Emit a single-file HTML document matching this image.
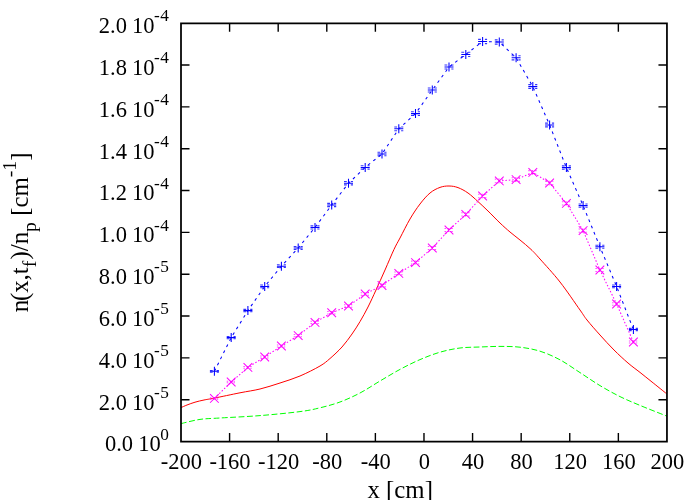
<!DOCTYPE html>
<html><head><meta charset="utf-8"><title>plot</title>
<style>html,body{margin:0;padding:0;background:#fff;}body{width:700px;height:500px;overflow:hidden;position:relative;font-family:"Liberation Serif",serif;}</style></head>
<body>
<svg width="700" height="500" viewBox="0 0 700 500" style="position:absolute;left:0;top:0;will-change:transform;font-family:'Liberation Serif',serif;">
<rect width="700" height="500" fill="#fff"/>
<path d="M181.00,407.60 C182.00,407.17 184.67,405.90 187.00,405.00 C189.33,404.10 192.17,403.03 195.00,402.20 C197.83,401.37 200.77,400.68 204.00,400.00 C207.23,399.32 208.40,399.30 214.40,398.10 C220.40,396.90 232.40,394.32 240.00,392.80 C247.60,391.28 253.33,390.63 260.00,389.00 C266.67,387.37 273.33,385.17 280.00,383.00 C286.67,380.83 293.33,378.83 300.00,376.00 C306.67,373.17 315.00,368.92 320.00,366.00 C325.00,363.08 326.33,361.67 330.00,358.50 C333.67,355.33 338.33,351.08 342.00,347.00 C345.67,342.92 349.00,338.23 352.00,334.00 C355.00,329.77 357.33,326.10 360.00,321.60 C362.67,317.10 365.33,312.27 368.00,307.00 C370.67,301.73 373.17,296.17 376.00,290.00 C378.83,283.83 382.00,276.77 385.00,270.00 C388.00,263.23 391.50,254.73 394.00,249.40 C396.50,244.07 397.33,243.07 400.00,238.00 C402.67,232.93 406.67,224.67 410.00,219.00 C413.33,213.33 416.67,208.33 420.00,204.00 C423.33,199.67 426.67,195.77 430.00,193.00 C433.33,190.23 436.83,188.57 440.00,187.40 C443.17,186.23 446.00,185.97 449.00,186.00 C452.00,186.03 454.83,186.43 458.00,187.60 C461.17,188.77 464.67,190.67 468.00,193.00 C471.33,195.33 474.67,198.60 478.00,201.60 C481.33,204.60 484.33,207.43 488.00,211.00 C491.67,214.57 496.33,219.50 500.00,223.00 C503.67,226.50 506.67,229.17 510.00,232.00 C513.33,234.83 516.50,237.10 520.00,240.00 C523.50,242.90 527.67,246.23 531.00,249.40 C534.33,252.57 535.17,253.57 540.00,259.00 C544.83,264.43 553.33,273.50 560.00,282.00 C566.67,290.50 575.50,303.67 580.00,310.00 C584.50,316.33 583.67,315.83 587.00,320.00 C590.33,324.17 595.50,330.00 600.00,335.00 C604.50,340.00 609.33,345.33 614.00,350.00 C618.67,354.67 623.67,359.27 628.00,363.00 C632.33,366.73 636.00,369.23 640.00,372.40 C644.00,375.57 647.55,378.43 652.00,382.00 C656.45,385.57 664.25,391.83 666.70,393.80" fill="none" stroke="#ff0000" stroke-width="1"/>
<path d="M181.00,423.60 C184.17,422.90 193.50,420.33 200.00,419.40 C206.50,418.47 210.00,418.63 220.00,418.00 C230.00,417.37 246.67,416.67 260.00,415.60 C273.33,414.53 290.00,412.90 300.00,411.60 C310.00,410.30 313.33,409.40 320.00,407.80 C326.67,406.20 333.33,404.47 340.00,402.00 C346.67,399.53 353.33,396.50 360.00,393.00 C366.67,389.50 373.33,384.93 380.00,381.00 C386.67,377.07 393.33,372.97 400.00,369.40 C406.67,365.83 413.33,362.47 420.00,359.60 C426.67,356.73 433.33,354.13 440.00,352.20 C446.67,350.27 453.33,348.87 460.00,348.00 C466.67,347.13 473.33,347.27 480.00,347.00 C486.67,346.73 493.33,346.37 500.00,346.40 C506.67,346.43 513.33,346.40 520.00,347.20 C526.67,348.00 533.33,349.10 540.00,351.20 C546.67,353.30 553.33,356.23 560.00,359.80 C566.67,363.37 573.33,368.30 580.00,372.60 C586.67,376.90 593.33,381.60 600.00,385.60 C606.67,389.60 613.33,393.30 620.00,396.60 C626.67,399.90 632.67,402.33 640.00,405.40 C647.33,408.47 659.55,413.23 664.00,415.00 C668.45,416.77 666.25,415.83 666.70,416.00" fill="none" stroke="#00ff00" stroke-width="1" stroke-dasharray="5.8,2.5"/>
<path d="M214.40,371.30 L231.20,337.60 L247.90,310.60 L264.70,286.40 L281.40,266.20 L298.20,248.00 L315.00,227.40 L331.70,205.00 L348.50,183.20 L365.20,167.40 L382.00,154.00 L398.80,128.80 L415.50,113.60 L432.30,90.00 L449.00,67.00 L465.80,54.40 L482.60,41.50 L499.30,42.00 L516.10,57.80 L532.80,86.60 L549.60,125.00 L566.40,167.60 L583.10,205.60 L599.90,246.70 L616.60,286.40 L633.40,329.50" fill="none" stroke="#0000ff" stroke-width="1.05" stroke-dasharray="2.8,4.0"/>
<path d="M214.40,398.40 L231.20,382.00 L247.90,367.40 L264.70,357.00 L281.40,346.00 L298.20,335.60 L315.00,322.40 L331.70,312.80 L348.50,306.00 L365.20,294.00 L382.00,285.50 L398.80,273.40 L415.50,262.60 L432.30,248.00 L449.00,230.00 L465.80,214.40 L482.60,196.00 L499.30,180.90 L516.10,179.60 L532.80,172.40 L549.60,183.00 L566.40,203.40 L583.10,230.60 L599.90,270.00 L616.60,304.00 L633.40,342.00" fill="none" stroke="#ff00ff" stroke-width="1.05" stroke-dasharray="1.5,1.9"/>
<path d="M209.90,371.30 h9.00 M214.40,366.80 v9.00 M226.70,337.60 h9.00 M231.20,333.10 v9.00 M243.40,310.60 h9.00 M247.90,306.10 v9.00 M260.20,286.40 h9.00 M264.70,281.90 v9.00 M276.90,266.20 h9.00 M281.40,261.70 v9.00 M293.70,248.00 h9.00 M298.20,243.50 v9.00 M310.50,227.40 h9.00 M315.00,222.90 v9.00 M327.20,205.00 h9.00 M331.70,200.50 v9.00 M344.00,183.20 h9.00 M348.50,178.70 v9.00 M360.70,167.40 h9.00 M365.20,162.90 v9.00 M377.50,154.00 h9.00 M382.00,149.50 v9.00 M394.30,128.80 h9.00 M398.80,124.30 v9.00 M411.00,113.60 h9.00 M415.50,109.10 v9.00 M427.80,90.00 h9.00 M432.30,85.50 v9.00 M444.50,67.00 h9.00 M449.00,62.50 v9.00 M461.30,54.40 h9.00 M465.80,49.90 v9.00 M478.10,41.50 h9.00 M482.60,37.00 v9.00 M494.80,42.00 h9.00 M499.30,37.50 v9.00 M511.60,57.80 h9.00 M516.10,53.30 v9.00 M528.30,86.60 h9.00 M532.80,82.10 v9.00 M545.10,125.00 h9.00 M549.60,120.50 v9.00 M561.90,167.60 h9.00 M566.40,163.10 v9.00 M578.60,205.60 h9.00 M583.10,201.10 v9.00 M595.40,246.70 h9.00 M599.90,242.20 v9.00 M612.10,286.40 h9.00 M616.60,281.90 v9.00 M628.90,329.50 h9.00 M633.40,325.00 v9.00" fill="none" stroke="#0000ff" stroke-width="1.05"/>
<path d="M209.90,370.42 h9.00 M209.90,372.18 h9.00 M226.70,336.53 h9.00 M226.70,338.67 h9.00 M243.40,309.39 h9.00 M243.40,311.81 h9.00 M260.20,285.09 h9.00 M260.20,287.71 h9.00 M276.90,264.81 h9.00 M276.90,267.59 h9.00 M293.70,246.53 h9.00 M293.70,249.47 h9.00 M310.50,225.86 h9.00 M310.50,228.94 h9.00 M327.20,203.38 h9.00 M327.20,206.62 h9.00 M344.00,181.51 h9.00 M344.00,184.89 h9.00 M360.70,165.66 h9.00 M360.70,169.14 h9.00 M377.50,152.21 h9.00 M377.50,155.79 h9.00 M394.30,126.94 h9.00 M394.30,130.66 h9.00 M411.00,111.69 h9.00 M411.00,115.51 h9.00 M427.80,88.02 h9.00 M427.80,91.98 h9.00 M444.50,64.96 h9.00 M444.50,69.04 h9.00 M461.30,52.33 h9.00 M461.30,56.47 h9.00 M478.10,39.39 h9.00 M478.10,43.61 h9.00 M494.80,39.89 h9.00 M494.80,44.11 h9.00 M511.60,55.74 h9.00 M511.60,59.86 h9.00 M528.30,84.62 h9.00 M528.30,88.58 h9.00 M545.10,123.13 h9.00 M545.10,126.87 h9.00 M561.90,165.86 h9.00 M561.90,169.34 h9.00 M578.60,203.98 h9.00 M578.60,207.22 h9.00 M595.40,245.23 h9.00 M595.40,248.17 h9.00 M612.10,285.09 h9.00 M612.10,287.71 h9.00 M628.90,328.39 h9.00 M628.90,330.61 h9.00" fill="none" stroke="#0000ff" stroke-width="1.05" stroke-dasharray="2.8,4.0" opacity="0.8"/>
<path d="M210.05,394.05 l8.70,8.70 M210.05,402.75 l8.70,-8.70 M226.85,377.65 l8.70,8.70 M226.85,386.35 l8.70,-8.70 M243.55,363.05 l8.70,8.70 M243.55,371.75 l8.70,-8.70 M260.35,352.65 l8.70,8.70 M260.35,361.35 l8.70,-8.70 M277.05,341.65 l8.70,8.70 M277.05,350.35 l8.70,-8.70 M293.85,331.25 l8.70,8.70 M293.85,339.95 l8.70,-8.70 M310.65,318.05 l8.70,8.70 M310.65,326.75 l8.70,-8.70 M327.35,308.45 l8.70,8.70 M327.35,317.15 l8.70,-8.70 M344.15,301.65 l8.70,8.70 M344.15,310.35 l8.70,-8.70 M360.85,289.65 l8.70,8.70 M360.85,298.35 l8.70,-8.70 M377.65,281.15 l8.70,8.70 M377.65,289.85 l8.70,-8.70 M394.45,269.05 l8.70,8.70 M394.45,277.75 l8.70,-8.70 M411.15,258.25 l8.70,8.70 M411.15,266.95 l8.70,-8.70 M427.95,243.65 l8.70,8.70 M427.95,252.35 l8.70,-8.70 M444.65,225.65 l8.70,8.70 M444.65,234.35 l8.70,-8.70 M461.45,210.05 l8.70,8.70 M461.45,218.75 l8.70,-8.70 M478.25,191.65 l8.70,8.70 M478.25,200.35 l8.70,-8.70 M494.95,176.55 l8.70,8.70 M494.95,185.25 l8.70,-8.70 M511.75,175.25 l8.70,8.70 M511.75,183.95 l8.70,-8.70 M528.45,168.05 l8.70,8.70 M528.45,176.75 l8.70,-8.70 M545.25,178.65 l8.70,8.70 M545.25,187.35 l8.70,-8.70 M562.05,199.05 l8.70,8.70 M562.05,207.75 l8.70,-8.70 M578.75,226.25 l8.70,8.70 M578.75,234.95 l8.70,-8.70 M595.55,265.65 l8.70,8.70 M595.55,274.35 l8.70,-8.70 M612.25,299.65 l8.70,8.70 M612.25,308.35 l8.70,-8.70 M629.05,337.65 l8.70,8.70 M629.05,346.35 l8.70,-8.70" fill="none" stroke="#ff00ff" stroke-width="1.05"/>
<path d="M209.90,397.68 h9.00 M209.90,399.12 h9.00 M226.70,381.16 h9.00 M226.70,382.84 h9.00 M243.40,366.46 h9.00 M243.40,368.34 h9.00 M260.20,356.00 h9.00 M260.20,358.00 h9.00 M276.90,344.93 h9.00 M276.90,347.07 h9.00 M293.70,334.48 h9.00 M293.70,336.72 h9.00 M310.50,321.21 h9.00 M310.50,323.59 h9.00 M327.20,311.56 h9.00 M327.20,314.04 h9.00 M344.00,304.73 h9.00 M344.00,307.27 h9.00 M360.70,292.67 h9.00 M360.70,295.33 h9.00 M377.50,284.14 h9.00 M377.50,286.86 h9.00 M394.30,271.98 h9.00 M394.30,274.82 h9.00 M411.00,261.14 h9.00 M411.00,264.06 h9.00 M427.80,246.48 h9.00 M427.80,249.52 h9.00 M444.50,228.41 h9.00 M444.50,231.59 h9.00 M461.30,212.75 h9.00 M461.30,216.05 h9.00 M478.10,194.29 h9.00 M478.10,197.71 h9.00 M494.80,179.14 h9.00 M494.80,182.66 h9.00 M511.60,177.83 h9.00 M511.60,181.37 h9.00 M528.30,170.61 h9.00 M528.30,174.19 h9.00 M545.10,181.24 h9.00 M545.10,184.76 h9.00 M561.90,201.72 h9.00 M561.90,205.08 h9.00 M578.60,229.01 h9.00 M578.60,232.19 h9.00 M595.40,268.57 h9.00 M595.40,271.43 h9.00 M612.10,302.72 h9.00 M612.10,305.28 h9.00 M628.90,340.91 h9.00 M628.90,343.09 h9.00" fill="none" stroke="#ff00ff" stroke-width="1.05" stroke-dasharray="1.5,1.9" opacity="0.7"/>
<path d="M181.00,23.25 H666.95 V441.50 H181.00 Z" fill="none" stroke="#000" stroke-width="1.75" stroke-linejoin="miter"/>
<path d="M229.59,441.50 v-8.50 M229.59,23.25 v8.50 M181.00,399.68 h8.50 M666.95,399.68 h-8.50 M278.19,441.50 v-8.50 M278.19,23.25 v8.50 M181.00,357.85 h8.50 M666.95,357.85 h-8.50 M326.79,441.50 v-8.50 M326.79,23.25 v8.50 M181.00,316.02 h8.50 M666.95,316.02 h-8.50 M375.38,441.50 v-8.50 M375.38,23.25 v8.50 M181.00,274.20 h8.50 M666.95,274.20 h-8.50 M423.98,441.50 v-8.50 M423.98,23.25 v8.50 M181.00,232.38 h8.50 M666.95,232.38 h-8.50 M472.57,441.50 v-8.50 M472.57,23.25 v8.50 M181.00,190.55 h8.50 M666.95,190.55 h-8.50 M521.17,441.50 v-8.50 M521.17,23.25 v8.50 M181.00,148.73 h8.50 M666.95,148.73 h-8.50 M569.76,441.50 v-8.50 M569.76,23.25 v8.50 M181.00,106.90 h8.50 M666.95,106.90 h-8.50 M618.36,441.50 v-8.50 M618.36,23.25 v8.50 M181.00,65.07 h8.50 M666.95,65.07 h-8.50" fill="none" stroke="#000" stroke-width="1.4"/>
<text x="160.7" y="451.40" text-anchor="end" font-size="22.5" word-spacing="-0.5" xml:space="preserve">0.0 10</text>
<text x="168.9" y="439.80" text-anchor="end" font-size="17.3">0</text>
<text x="154.6" y="409.56" text-anchor="end" font-size="22.5" word-spacing="-0.5" xml:space="preserve">2.0 10</text>
<text x="154.0" y="397.96" font-size="17.3">-</text>
<text x="169.0" y="397.96" text-anchor="end" font-size="17.3">5</text>
<text x="154.6" y="367.72" text-anchor="end" font-size="22.5" word-spacing="-0.5" xml:space="preserve">4.0 10</text>
<text x="154.0" y="356.12" font-size="17.3">-</text>
<text x="169.0" y="356.12" text-anchor="end" font-size="17.3">5</text>
<text x="154.6" y="325.88" text-anchor="end" font-size="22.5" word-spacing="-0.5" xml:space="preserve">6.0 10</text>
<text x="154.0" y="314.28" font-size="17.3">-</text>
<text x="169.0" y="314.28" text-anchor="end" font-size="17.3">5</text>
<text x="154.6" y="284.04" text-anchor="end" font-size="22.5" word-spacing="-0.5" xml:space="preserve">8.0 10</text>
<text x="154.0" y="272.44" font-size="17.3">-</text>
<text x="169.0" y="272.44" text-anchor="end" font-size="17.3">5</text>
<text x="154.6" y="242.20" text-anchor="end" font-size="22.5" word-spacing="-0.5" xml:space="preserve">1.0 10</text>
<text x="154.0" y="230.60" font-size="17.3">-</text>
<text x="169.0" y="230.60" text-anchor="end" font-size="17.3">4</text>
<text x="154.6" y="200.36" text-anchor="end" font-size="22.5" word-spacing="-0.5" xml:space="preserve">1.2 10</text>
<text x="154.0" y="188.76" font-size="17.3">-</text>
<text x="169.0" y="188.76" text-anchor="end" font-size="17.3">4</text>
<text x="154.6" y="158.52" text-anchor="end" font-size="22.5" word-spacing="-0.5" xml:space="preserve">1.4 10</text>
<text x="154.0" y="146.92" font-size="17.3">-</text>
<text x="169.0" y="146.92" text-anchor="end" font-size="17.3">4</text>
<text x="154.6" y="116.68" text-anchor="end" font-size="22.5" word-spacing="-0.5" xml:space="preserve">1.6 10</text>
<text x="154.0" y="105.08" font-size="17.3">-</text>
<text x="169.0" y="105.08" text-anchor="end" font-size="17.3">4</text>
<text x="154.6" y="74.84" text-anchor="end" font-size="22.5" word-spacing="-0.5" xml:space="preserve">1.8 10</text>
<text x="154.0" y="63.24" font-size="17.3">-</text>
<text x="169.0" y="63.24" text-anchor="end" font-size="17.3">4</text>
<text x="154.6" y="33.00" text-anchor="end" font-size="22.5" word-spacing="-0.5" xml:space="preserve">2.0 10</text>
<text x="154.0" y="21.40" font-size="17.3">-</text>
<text x="169.0" y="21.40" text-anchor="end" font-size="17.3">4</text>
<text x="181.40" y="468.7" text-anchor="middle" font-size="22.5">-200</text>
<text x="230.00" y="468.7" text-anchor="middle" font-size="22.5">-160</text>
<text x="278.59" y="468.7" text-anchor="middle" font-size="22.5">-120</text>
<text x="327.19" y="468.7" text-anchor="middle" font-size="22.5">-80</text>
<text x="375.78" y="468.7" text-anchor="middle" font-size="22.5">-40</text>
<text x="424.38" y="468.7" text-anchor="middle" font-size="22.5">0</text>
<text x="472.97" y="468.7" text-anchor="middle" font-size="22.5">40</text>
<text x="521.57" y="468.7" text-anchor="middle" font-size="22.5">80</text>
<text x="570.16" y="468.7" text-anchor="middle" font-size="22.5">120</text>
<text x="618.75" y="468.7" text-anchor="middle" font-size="22.5">160</text>
<text x="667.35" y="468.7" text-anchor="middle" font-size="22.5">200</text>
<text x="367.5" y="498.2" font-size="24.8">x [cm]</text>
<text transform="translate(28,312.2) rotate(-90)" font-size="24.8" xml:space="preserve">n<tspan dx="-1.3">(x,t</tspan><tspan font-size="19.8" dy="7.5">f</tspan><tspan dy="-7.5" dx="1.3">)/n</tspan><tspan font-size="19.8" dy="7.5">p</tspan><tspan dy="-7.5"> [cm</tspan><tspan font-size="19.8" dy="-12.5">-1</tspan><tspan dy="12.5">]</tspan></text>
</svg>
</body></html>
